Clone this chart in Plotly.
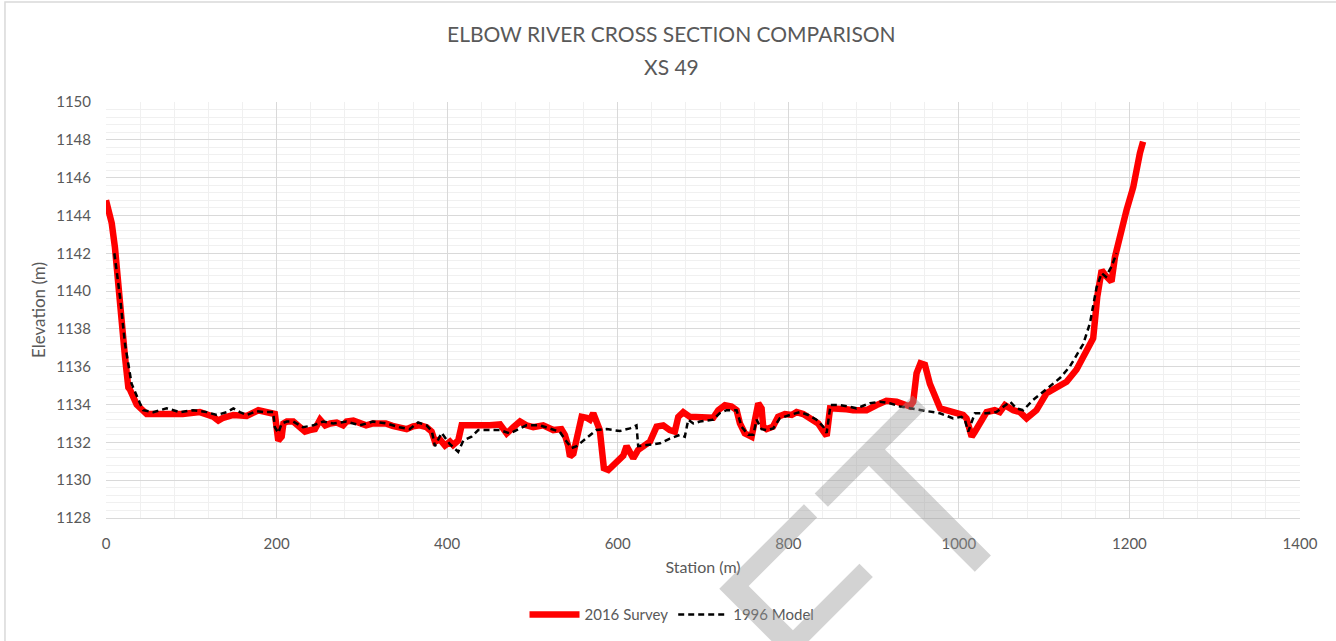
import plotly.graph_objects as go

# 2016 survey ground profile
survey_station = [0, 6.7, 10.5, 14.5, 18.4, 22.3, 26.2, 28, 36, 43.7, 47.7, 55, 70, 90, 110,
                  125.8, 131.7, 137.5, 149.3, 165, 178.6, 192.3, 198, 202, 206, 208, 212,
                  219.6, 227.5, 233.3, 239, 245, 251, 257, 263, 270.5, 278, 282, 290, 297.7,
                  305, 313, 320.5, 328, 336, 344, 352.5, 360, 368, 375.8, 381.8, 385.7,
                  391.5, 397.4, 403.3, 407, 413, 417, 426.8, 438.5, 450, 462, 469.8, 477.6,
                  485.4, 493, 500.9, 512.6, 524.5, 534, 538, 542, 544, 548, 551.8, 557.7,
                  563.5, 567.4, 571.3, 575, 579, 581, 583.8, 589, 595, 600.7, 606.5, 610.4,
                  614.3, 618.2, 624, 630, 637.8, 645.6, 653.4, 661, 667, 671, 676.8, 684.6,
                  696.3, 704, 712, 717.9, 725.7, 733.5, 739.4, 743.3, 749, 757, 760.9, 764.8,
                  768.7, 770.6, 774.5, 782, 788, 796, 804, 809.7, 817.5, 825.4, 835, 841,
                  845, 849, 856.6, 868.3, 876, 884, 891.8, 903.5, 915, 927, 938.7, 942.6,
                  946.5, 950.4, 955, 960.2, 966, 978, 993.4, 1005, 1009, 1012, 1015, 1018.8,
                  1032.5, 1042, 1048, 1054, 1063.8, 1071.6, 1079.4, 1091, 1102.9, 1114.6,
                  1126.3, 1138, 1149.8, 1157.5, 1162.3, 1167.4, 1173.2, 1179, 1183, 1189,
                  1196.7, 1204.5, 1208.4, 1212.3, 1216]
survey_elev = [1144.8, 1143.6, 1142.3, 1140.1, 1138.3, 1136.5, 1134.9, 1134.8, 1134.0, 1133.7,
               1133.5, 1133.5, 1133.5, 1133.5, 1133.6, 1133.36, 1133.15, 1133.3, 1133.45,
               1133.4, 1133.7, 1133.6, 1133.5, 1132.1, 1132.3, 1133.0, 1133.1, 1133.1,
               1132.8, 1132.57, 1132.65, 1132.7, 1133.2, 1132.9, 1133.0, 1133.05, 1132.9,
               1133.1, 1133.15, 1133.0, 1132.9, 1133.0, 1132.96, 1133.0, 1132.87, 1132.8,
               1132.7, 1132.85, 1132.9, 1132.8, 1132.57, 1132.04, 1132.15, 1131.83, 1132.04,
               1131.86, 1132.1, 1132.9, 1132.9, 1132.83, 1132.9, 1132.95, 1132.47, 1132.8,
               1133.1, 1132.9, 1132.8, 1132.9, 1132.65, 1132.7, 1132.4, 1131.8, 1131.25,
               1131.4, 1132.1, 1133.35, 1133.3, 1133.2, 1133.54, 1133.2, 1132.65, 1131.8,
               1130.63, 1130.54, 1130.8, 1130.98, 1131.3, 1131.8, 1131.55, 1131.16, 1131.6,
               1131.8, 1132.04, 1132.83, 1132.9, 1132.65, 1132.57, 1133.35, 1133.6, 1133.35,
               1133.35, 1133.3, 1133.3, 1133.7, 1133.97, 1133.9, 1133.7, 1133.0, 1132.48,
               1132.3, 1133.2, 1134.06, 1133.8, 1132.83, 1132.7, 1132.83, 1133.35, 1133.5,
               1133.45, 1133.6, 1133.5, 1133.27, 1133.0, 1132.6, 1132.35, 1133.8, 1133.8,
               1133.75, 1133.7, 1133.7, 1133.7, 1133.97, 1134.2, 1134.15, 1133.97, 1133.9,
               1134.15, 1135.65, 1136.18, 1136.1, 1135.1, 1133.8, 1133.6, 1133.45, 1133.27,
               1132.65, 1132.3, 1132.56, 1133.6, 1133.7, 1133.6, 1133.97, 1133.7, 1133.6,
               1133.27, 1133.7, 1134.6, 1134.9, 1135.2, 1135.85, 1136.9, 1137.5, 1139.7,
               1141.1, 1140.76, 1140.5, 1141.8, 1143.06, 1144.3, 1145.5, 1146.6, 1147.3,
               1147.9, 1148.6]

# 1996 hydraulic model cross section
model_station = [9.8, 16.4, 22.3, 30, 39.8, 43.7, 55.4, 71, 86.7, 102, 118, 129.8, 141.6,
                 149.3, 157, 165, 176.7, 184.5, 196, 198, 202, 206, 212, 219.6, 231, 243,
                 254.7, 266.5, 282, 297.7, 313, 328.7, 344, 356, 366, 375.8, 382, 385.7,
                 393.5, 403.3, 413, 419, 428.6, 436.5, 450, 462, 473.6, 483.3, 493, 508.8,
                 520.5, 532, 540, 546, 551.8, 559.6, 569.4, 575, 587, 602.6, 614.3, 622, 624,
                 637.8, 649.5, 661.2, 673, 678.7, 682.7, 688.6, 696.3, 712, 719.7, 727.6,
                 739.4, 745.2, 753, 759, 762.8, 768.7, 774.5, 782.4, 790, 801.8, 813.6,
                 823.4, 833, 841, 845, 849.5, 860.4, 870, 880, 895.7, 907.5, 919, 931, 942.6,
                 958, 977.8, 993.4, 1003, 1007, 1011, 1018.8, 1032.5, 1044, 1052, 1060,
                 1067.6, 1075.5, 1087, 1102.8, 1118.5, 1130, 1145.8, 1153.7, 1161.5, 1167.4,
                 1172.4, 1179, 1184.9]
model_elev = [1142.0, 1139.7, 1137.2, 1135.1, 1134.07, 1133.7, 1133.6, 1133.8, 1133.6,
              1133.7, 1133.6, 1133.45, 1133.6, 1133.8, 1133.6, 1133.45, 1133.65, 1133.6,
              1133.6, 1132.8, 1132.5, 1133.0, 1133.1, 1133.1, 1132.8, 1132.9, 1133.1,
              1133.0, 1133.1, 1132.9, 1133.1, 1133.0, 1132.8, 1132.7, 1133.05, 1132.9,
              1132.6, 1131.8, 1132.5, 1131.9, 1131.5, 1132.1, 1132.3, 1132.65, 1132.65,
              1132.65, 1132.47, 1132.7, 1132.9, 1132.9, 1132.74, 1132.56, 1132.04, 1131.7,
              1131.8, 1132.1, 1132.47, 1132.65, 1132.7, 1132.6, 1132.74, 1132.9, 1131.8,
              1131.86, 1131.95, 1132.2, 1132.4, 1132.3, 1133.2, 1133.0, 1133.1, 1133.2,
              1133.55, 1133.7, 1133.7, 1132.83, 1132.4, 1132.4, 1133.2, 1132.7, 1132.65,
              1132.74, 1133.27, 1133.45, 1133.6, 1133.45, 1133.2, 1132.83, 1132.5, 1133.97,
              1133.97, 1133.9, 1133.8, 1134.07, 1134.15, 1134.07, 1133.9, 1133.8, 1133.7,
              1133.54, 1133.27, 1133.35, 1133.2, 1132.57, 1133.54, 1133.54, 1133.6, 1133.9,
              1134.15, 1133.8, 1133.7, 1134.24, 1134.8, 1135.4, 1136.0, 1137.2, 1138.3,
              1140.2, 1140.95, 1140.76, 1141.3, 1142.0]

x_ticks = [0, 200, 400, 600, 800, 1000, 1200, 1400]
y_ticks = list(range(1128, 1151, 2))

title_line1 = "ELBOW RIVER CROSS SECTION COMPARISON"
title_line2 = "XS 49"

FONT = "Lato"
TXT = "#595959"

fig = go.Figure()
fig.add_trace(go.Scatter(
    x=survey_station, y=survey_elev, mode="lines", name="2016 Survey",
    line=dict(color="#ff0000", width=6.5, shape="linear"),
))
fig.add_trace(go.Scatter(
    x=model_station, y=model_elev, mode="lines", name="1996 Model",
    line=dict(color="#000000", width=2.5, dash="6px,4px"),
))

fig.update_layout(
    width=1336, height=641,
    margin=dict(l=106, r=36, t=102, b=123),
    paper_bgcolor="white", plot_bgcolor="white",
    font=dict(family=FONT, color=TXT, size=15),
    showlegend=True,
    legend=dict(
        orientation="h", xref="container", yref="container",
        x=0.503, y=0.041, xanchor="center", yanchor="middle",
        font=dict(family=FONT, size=15, color=TXT),
        itemwidth=50, tracegroupgap=0,
    ),
    xaxis=dict(
        range=[0, 1400], tickvals=x_ticks, ticktext=[str(v) for v in x_ticks],
        showgrid=True, gridcolor="#d9d9d9", gridwidth=1,
        minor=dict(dtick=40, tick0=0, showgrid=True, gridcolor="#f0f0f0", gridwidth=1),
        showline=True, linecolor="#d9d9d9", linewidth=1,
        zeroline=False, ticks="", ticklabelstandoff=12,
        tickfont=dict(family=FONT, size=15, color=TXT),
        title=dict(text="Station (m)", font=dict(family=FONT, size=16, color=TXT), standoff=10),
    ),
    yaxis=dict(
        range=[1128, 1150], tickvals=y_ticks, ticktext=[str(v) for v in y_ticks],
        showgrid=True, gridcolor="#d9d9d9", gridwidth=1,
        minor=dict(dtick=0.4, tick0=1128, showgrid=True, gridcolor="#f0f0f0", gridwidth=1),
        showline=False, zeroline=False, ticks="", ticklabelstandoff=14,
        tickfont=dict(family=FONT, size=15, color=TXT),
        title=dict(text="Elevation (m)", font=dict(family=FONT, size=17, color=TXT), standoff=6),
    ),
)

# chart title (two lines)
fig.add_annotation(text=title_line1, xref="paper", yref="paper", x=0.4732, y=1.1635,
                   showarrow=False, xanchor="center", yanchor="middle",
                   font=dict(family=FONT, size=21, color=TXT))
fig.add_annotation(text=title_line2, xref="paper", yref="paper", x=0.4732, y=1.0865,
                   showarrow=False, xanchor="center", yanchor="middle",
                   font=dict(family=FONT, size=21, color=TXT))

# chart-area border
fig.add_shape(type="rect", xref="paper", yref="paper",
              x0=-0.0846, y0=-0.32, x1=1.04, y1=1.2404,
              line=dict(color="#d9d9d9", width=1.5), fillcolor="rgba(0,0,0,0)", layer="below")

# watermark
fig.add_annotation(text="DRAFT", xref="paper", yref="paper", x=0.487, y=-0.532,
                   showarrow=False, xanchor="center", yanchor="middle", textangle=-45,
                   font=dict(family="Liberation Sans", size=245, color="rgba(150,150,150,0.42)"))

fig.write_html("out.html")
